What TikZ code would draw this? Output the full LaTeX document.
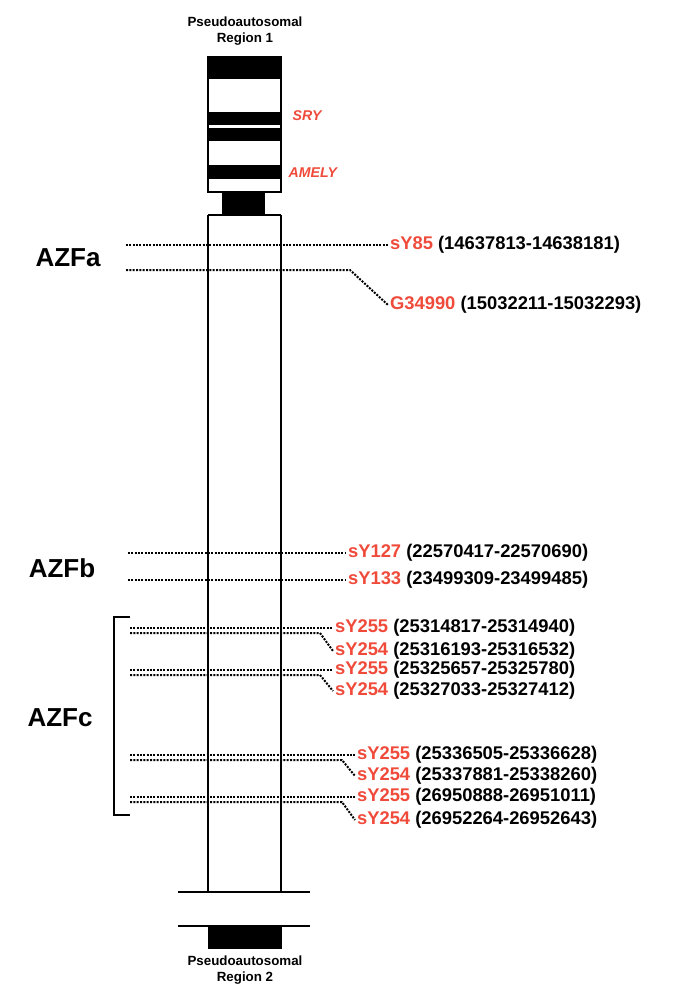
\documentclass[tikz,border=0pt]{standalone}
\usepackage{fontspec}
\setmainfont{Liberation Sans}
\definecolor{stsred}{HTML}{EF4A3A}
\tikzstyle{band}=[fill=black, draw=black]
\tikzstyle{arm}=[draw=black, line width=2.2pt]
\tikzstyle{sts}=[densely dotted, line width=1.5pt]
\tikzstyle{stslabel}=[anchor=west, inner sep=1pt, font=\bfseries\fontsize{10.6}{12}\selectfont]
\tikzstyle{region}=[font=\bfseries\fontsize{15}{18}\selectfont]
\tikzstyle{par}=[align=center, font=\bfseries\fontsize{10}{12}\selectfont]
\newcommand{\sts}[2]{\textcolor{stsred}{#1} (#2)}

\begin{document}
\begin{tikzpicture}[x=0.75pt, y=-0.75pt]
\useasboundingbox (0,0) rectangle (680,996);

% short arm
\draw [arm, fill=white] (208,57) rectangle (281,192);
\fill [band] (208,57) rectangle (281,78);
\fill [band] (208,112) rectangle (281,124);
\fill [band] (208,128) rectangle (281,140);
\fill [band] (208,165) rectangle (281,178);
\fill [band] (222,192) rectangle (264,215);
\node [par] (par1) at (245,31) {Pseudoautosomal\\Region 1};
\node [anchor=west, stsred, font=\bfseries\itshape\fontsize{10.6}{12}\selectfont] (sry) at (288,116) {SRY};
\node [anchor=west, stsred, font=\bfseries\itshape\fontsize{10.6}{12}\selectfont] (amely) at (284,173) {AMELY};

% long arm
\draw [arm] (208,215) -- (281,215);
\draw [arm] (208,215) -- (208,892);
\draw [arm] (281,215) -- (281,892);
\draw [arm] (178,892) -- (310,892);
\draw [arm] (178,926) -- (310,926);
\fill [band] (208,926) rectangle (281,948);
\node [par] (par2) at (245,970) {Pseudoautosomal\\Region 2};

% regions
\node [region, scale=1.3] (azfa) at (68,258) {AZFa};
\node [region, scale=1.3] (azfb) at (62,568) {AZFb};
\node [region, scale=1.3] (azfc) at (60,718) {AZFc};
\draw [line width=1pt] (130,617) -- (114,617) -- (114,815) -- (130,815);

% markers
\node [stslabel, scale=1.3] (m1) at (388,245) {\sts{sY85}{14637813-14638181}};
\node [stslabel, scale=1.3] (m2) at (388,305) {\sts{G34990}{15032211-15032293}};
\node [stslabel, scale=1.3] (m3) at (346,553) {\sts{sY127}{22570417-22570690}};
\node [stslabel, scale=1.3] (m4) at (346,580) {\sts{sY133}{23499309-23499485}};
\node [stslabel, scale=1.3] (m5) at (333,628) {\sts{sY255}{25314817-25314940}};
\node [stslabel, scale=1.3] (m6) at (333,651) {\sts{sY254}{25316193-25316532}};
\node [stslabel, scale=1.3] (m7) at (333,670) {\sts{sY255}{25325657-25325780}};
\node [stslabel, scale=1.3] (m8) at (333,691) {\sts{sY254}{25327033-25327412}};
\node [stslabel, scale=1.3] (m9) at (355,755) {\sts{sY255}{25336505-25336628}};
\node [stslabel, scale=1.3] (m10) at (355,776) {\sts{sY254}{25337881-25338260}};
\node [stslabel, scale=1.3] (m11) at (355,797) {\sts{sY255}{26950888-26951011}};
\node [stslabel, scale=1.3] (m12) at (355,820) {\sts{sY254}{26952264-26952643}};

\draw [sts] (126,245) -- (m1.west);
\draw [sts] (126,270) -- (350,270) -- (m2.west);
\draw [sts] (128,553) -- (m3.west);
\draw [sts] (128,580) -- (m4.west);
\draw [sts] (130,628) -- (m5.west);
\draw [sts] (130,633) -- (320,633) -- (m6.west);
\draw [sts] (130,670) -- (m7.west);
\draw [sts] (130,675) -- (320,675) -- (m8.west);
\draw [sts] (130,755) -- (m9.west);
\draw [sts] (130,760) -- (342,760) -- (m10.west);
\draw [sts] (130,797) -- (m11.west);
\draw [sts] (130,802) -- (342,802) -- (m12.west);

\end{tikzpicture}
\end{document}
